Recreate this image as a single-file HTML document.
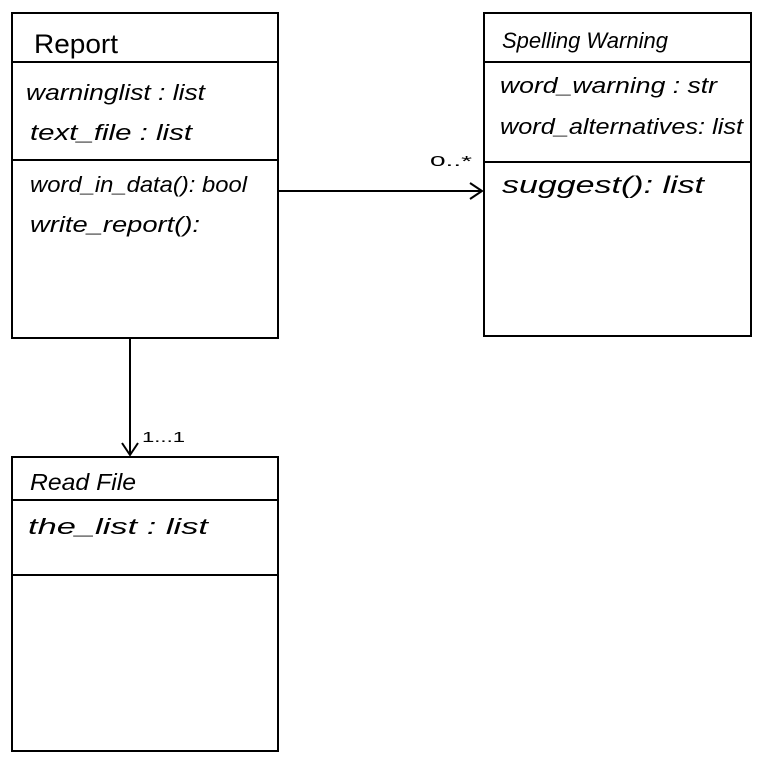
<!DOCTYPE html>
<html><head><meta charset="utf-8"><style>
html,body{margin:0;padding:0;background:#fff;}
svg{display:block}
text{font-family:"Liberation Sans",sans-serif;fill:#000;}
</style></head><body>
<svg width="767" height="761" viewBox="0 0 767 761">
<g fill="none" stroke="#000" stroke-width="2">
<rect x="12" y="13" width="266" height="325"/>
<line x1="12" y1="62" x2="278" y2="62"/>
<line x1="12" y1="160" x2="278" y2="160"/>
<rect x="484" y="13" width="267" height="323"/>
<line x1="484" y1="62" x2="751" y2="62"/>
<line x1="484" y1="162" x2="751" y2="162"/>
<rect x="12" y="457" width="266" height="294"/>
<line x1="12" y1="500" x2="278" y2="500"/>
<line x1="12" y1="575" x2="278" y2="575"/>
<line x1="278" y1="191" x2="482" y2="191"/>
<polyline points="470,183 482,191 470,199"/>
<line x1="130" y1="338" x2="130" y2="455"/>
<polyline points="122,443 130,455 138,443"/>
</g>
<g lengthAdjust="spacingAndGlyphs">
<text x="34" y="53" font-size="27" textLength="84" lengthAdjust="spacingAndGlyphs">Report</text>
<text x="26" y="100" font-size="22" font-style="italic" textLength="179" lengthAdjust="spacingAndGlyphs">warninglist : list</text>
<text x="30" y="140" font-size="22" font-style="italic" textLength="162" lengthAdjust="spacingAndGlyphs">text_file : list</text>
<text x="30" y="192" font-size="22" font-style="italic" textLength="217" lengthAdjust="spacingAndGlyphs">word_in_data(): bool</text>
<text x="30" y="232" font-size="22" font-style="italic" textLength="170" lengthAdjust="spacingAndGlyphs">write_report():</text>
<text x="502" y="48" font-size="22" font-style="italic" textLength="166" lengthAdjust="spacingAndGlyphs">Spelling Warning</text>
<text x="500" y="93" font-size="22" font-style="italic" textLength="217" lengthAdjust="spacingAndGlyphs">word_warning : str</text>
<text x="500" y="134" font-size="22" font-style="italic" textLength="243" lengthAdjust="spacingAndGlyphs">word_alternatives: list</text>
<text x="502" y="193" font-size="24" font-style="italic" textLength="202" lengthAdjust="spacingAndGlyphs">suggest(): list</text>
<text x="430" y="166" font-size="15" textLength="42" lengthAdjust="spacingAndGlyphs">0..*</text>
<text x="30" y="490" font-size="23" font-style="italic" textLength="106" lengthAdjust="spacingAndGlyphs">Read File</text>
<text x="28" y="534" font-size="22" font-style="italic" textLength="180" lengthAdjust="spacingAndGlyphs">the_list : list</text>
<text x="142" y="442" font-size="15" textLength="43" lengthAdjust="spacingAndGlyphs">1...1</text>
</g>
</svg>
</body></html>
